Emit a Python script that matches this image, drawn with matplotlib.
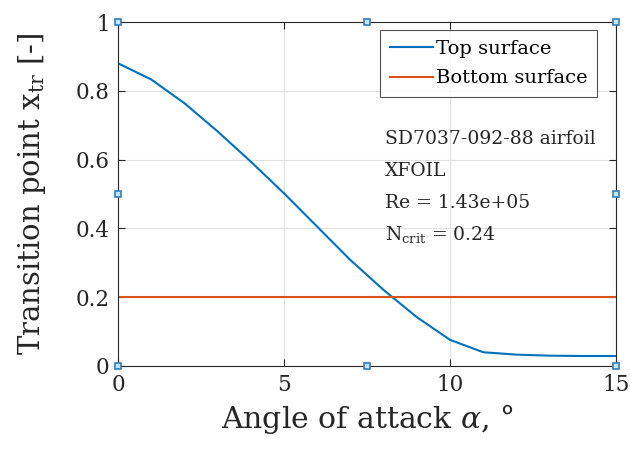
import matplotlib

matplotlib.use("Agg")
import matplotlib.pyplot as plt

plt.rcParams["font.family"] = ["DejaVu Serif"]
plt.rcParams["mathtext.fontset"] = "dejavuserif"

# XFOIL transition point vs angle of attack
alpha = [0, 1, 2, 3, 4, 5, 6, 7, 8, 9, 10, 11, 12, 13, 14, 15]
x_top = [0.880, 0.833, 0.764, 0.682, 0.594, 0.502, 0.405, 0.308, 0.221,
         0.142, 0.076, 0.040, 0.033, 0.030, 0.029, 0.029]
x_bottom = [0.2] * len(alpha)

x_ticks = [0, 5, 10, 15]
y_ticks = [0, 0.2, 0.4, 0.6, 0.8, 1]
y_tick_labels = ["0", "0.2", "0.4", "0.6", "0.8", "1"]

# MATLAB selection handles around the axes
handle_x = [0, 7.5, 15, 0, 15, 0, 7.5, 15]
handle_y = [0, 0, 0, 0.5, 0.5, 1, 1, 1]

info_lines = ["SD7037-092-88 airfoil", "XFOIL", "Re = 1.43e+05",
              r"N$_{\mathregular{crit}}$ = 0.24"]

BLUE = "#0072BD"
ORANGE = "#D95319"
AX_COL = "#262626"

fig = plt.figure(figsize=(6.3, 4.51), dpi=100)
ax = fig.add_axes([0.1873, 0.1885, 0.7905, 0.7627])

ax.plot(alpha, x_top, color=BLUE, lw=1.5, label="Top surface")
ax.plot(alpha, x_bottom, color=ORANGE, lw=1.5, label="Bottom surface")

ax.set_xlim(0, 15)
ax.set_ylim(0, 1)
ax.set_xticks(x_ticks)
ax.set_yticks(y_ticks)
ax.set_yticklabels(y_tick_labels)
ax.grid(True, color="#e0e0e0", lw=0.8)
ax.set_axisbelow(True)
ax.tick_params(direction="in", top=True, right=True, length=5, width=0.8,
               colors=AX_COL, labelsize=15.5, pad=6)
for sp in ax.spines.values():
    sp.set_color(AX_COL)
    sp.set_linewidth(0.8)

ax.set_xlabel(r"Angle of attack $\alpha$, °", fontsize=21.5, color=AX_COL,
              labelpad=4)
ax.set_ylabel(r"Transition point x$_{\mathregular{tr}}$ [-]", fontsize=21,
              color=AX_COL, labelpad=20)

leg = ax.legend(loc="upper right", bbox_to_anchor=(0.962, 0.977),
                fontsize=14, frameon=True, fancybox=False,
                handlelength=2.2, handletextpad=0.15, borderpad=0.5,
                labelspacing=0.6, borderaxespad=0.0)
leg.get_frame().set_edgecolor(AX_COL)
leg.get_frame().set_linewidth(0.8)

for i, line in enumerate(info_lines):
    ax.text(0.536, 0.66 - i * 0.093, line, transform=ax.transAxes,
            fontsize=13.5, color=AX_COL, va="center")

ax.plot(handle_x, handle_y, ls="none", marker="s", ms=5,
        mfc="#cfe4f7", mec="#2e7fc4", mew=1.2, clip_on=False, zorder=5)

fig.savefig("out.png", dpi=100)
